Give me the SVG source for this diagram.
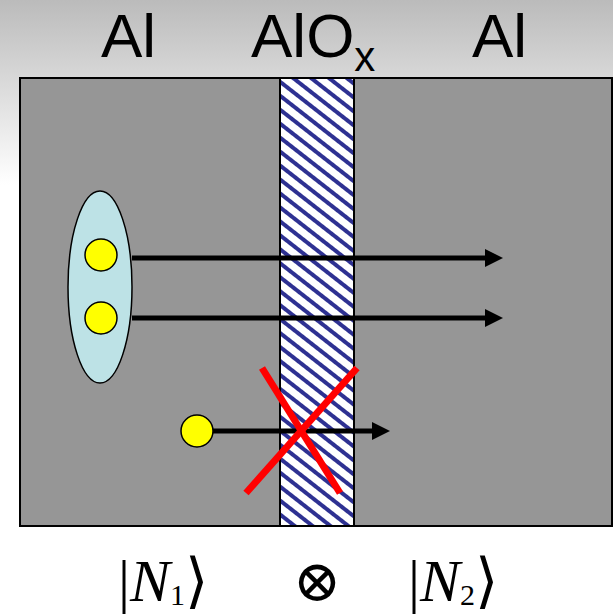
<svg xmlns="http://www.w3.org/2000/svg" width="613" height="616" viewBox="0 0 613 616">
<style>
.lbl{font-family:"Liberation Sans",Arial,sans-serif;fill:#000;}
.math{font-family:"Liberation Serif","DejaVu Serif",serif;fill:#000;}
.arrow{stroke:#000;stroke-width:5;fill:none;}
.dot{fill:#ffff00;stroke:#000;stroke-width:1.5;}
.cross{stroke:#ff0000;stroke-width:7;stroke-linecap:butt;}
</style>
<defs>
<linearGradient id="bg" x1="0" y1="0" x2="0" y2="1">
<stop offset="0" stop-color="#bbbbbb"/>
<stop offset="0.3" stop-color="#ffffff"/>
<stop offset="1" stop-color="#ffffff"/>
</linearGradient>
<pattern id="hatch" patternUnits="userSpaceOnUse" width="20" height="11" patternTransform="rotate(38)">
<rect width="20" height="11" fill="#ffffff"/>
<rect width="20" height="4" fill="#2e3192"/>
</pattern>
<marker id="ah" markerUnits="userSpaceOnUse" markerWidth="18" markerHeight="18" viewBox="0 0 17 17" refX="0" refY="8.5" orient="auto">
<path d="M0,0 L17,8.5 L0,17 Z" fill="#000"/>
</marker>
</defs>
<rect width="613" height="616" fill="url(#bg)"/>
<g id="labels">
<text class="lbl" x="101" y="57" font-size="62">Al</text>
<text class="lbl" x="251" y="57" font-size="62">AlO<tspan font-size="42" dy="14">x</tspan></text>
<text class="lbl" x="472" y="57" font-size="62">Al</text>
</g>
<g id="slab">
<rect x="20" y="78" width="592" height="448" fill="#969696" stroke="#000" stroke-width="2"/>
</g>
<g id="barrier">
<rect x="280" y="78" width="74" height="448" fill="url(#hatch)" stroke="#000" stroke-width="2"/>
</g>
<g id="connectors">
<line class="arrow" x1="132" y1="258" x2="485" y2="258" marker-end="url(#ah)"/>
<line class="arrow" x1="132" y1="318" x2="485" y2="318" marker-end="url(#ah)"/>
<line class="arrow" x1="212" y1="431" x2="372" y2="431" marker-end="url(#ah)"/>
</g>
<g id="pair">
<ellipse cx="100" cy="287" rx="32" ry="96" fill="#bde2e6" stroke="#000" stroke-width="1.5"/>
<circle class="dot" cx="101" cy="255" r="16"/>
<circle class="dot" cx="101" cy="318" r="16"/>
</g>
<g id="single">
<circle class="dot" cx="197" cy="431" r="16"/>
</g>
<g id="cross">
<line class="cross" x1="262" y1="368" x2="340" y2="493"/>
<line class="cross" x1="357" y1="368" x2="246" y2="493"/>
</g>
<g id="states">
<text class="math" x="118" y="601" font-size="60">|<tspan font-style="italic">N</tspan><tspan font-size="30" dy="4">1</tspan><tspan dy="-4">⟩</tspan></text>
<text class="math" x="317" y="601" font-size="58" text-anchor="middle" font-family="DejaVu Sans, sans-serif" font-weight="200">⊗</text>
<text class="math" x="408" y="601" font-size="60">|<tspan font-style="italic">N</tspan><tspan font-size="30" dy="4">2</tspan><tspan dy="-4">⟩</tspan></text>
</g>
</svg>
